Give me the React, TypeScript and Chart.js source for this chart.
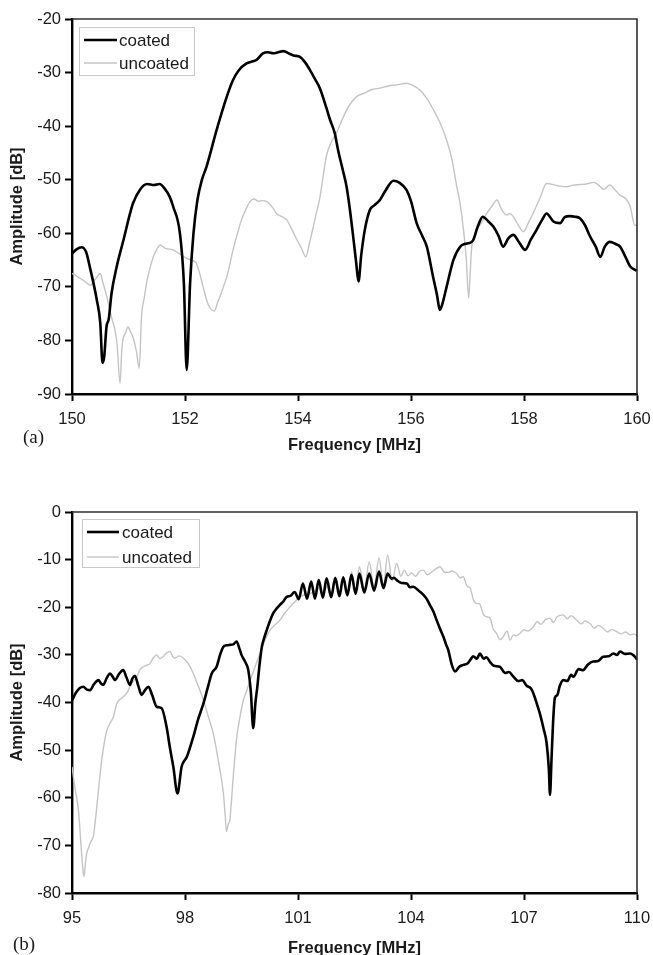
import React, { useEffect, useRef } from "react";
import { Chart, registerables } from "chart.js";

Chart.register(...registerables);

// ---------- Panel (a) data ----------
const coatedA_f = [150.0, 150.08, 150.17, 150.25, 150.32, 150.38, 150.44, 150.5, 150.54, 150.57, 150.61, 150.65, 150.7, 150.79, 150.91, 151.03, 151.08, 151.2, 151.33, 151.45, 151.55, 151.65, 151.73, 151.79, 151.91, 151.98, 152.03, 152.09, 152.15, 152.22, 152.3, 152.38, 152.56, 152.74, 152.85, 152.95, 153.09, 153.2, 153.27, 153.38, 153.47, 153.56, 153.65, 153.74, 153.85, 153.92, 154.04, 154.12, 154.21, 154.3, 154.39, 154.5, 154.57, 154.65, 154.71, 154.8, 154.86, 154.92, 154.97, 155.03, 155.07, 155.12, 155.18, 155.27, 155.35, 155.45, 155.55, 155.69, 155.8, 155.92, 156.0, 156.1, 156.2, 156.28, 156.39, 156.46, 156.51, 156.56, 156.63, 156.75, 156.87, 156.95, 157.04, 157.1, 157.18, 157.27, 157.37, 157.46, 157.55, 157.63, 157.72, 157.81, 157.92, 158.02, 158.12, 158.22, 158.32, 158.4, 158.52, 158.64, 158.72, 158.81, 158.9, 158.99, 159.08, 159.17, 159.27, 159.35, 159.43, 159.52, 159.62, 159.7, 159.8, 159.88, 160.0];
const coatedA_db = [-63.8, -63.0, -62.6, -63.5, -66.5, -69.3, -72.5, -76.7, -84.2, -83.0, -77.5, -76.0, -71.2, -66.3, -61.3, -56.2, -54.4, -51.9, -50.8, -51.0, -50.8, -51.8, -53.2, -55.0, -60.0, -69.3, -85.5, -69.3, -60.0, -53.8, -50.0, -47.6, -40.7, -34.5, -31.4, -29.6, -28.3, -27.9, -27.6, -26.4, -26.2, -26.4, -26.2, -26.0, -26.5, -26.8, -27.1, -28.0, -29.5, -31.2, -33.0, -36.5, -38.9, -41.3, -44.5, -48.5, -51.3, -55.7, -60.0, -65.5, -69.0, -64.0, -59.5, -55.7, -54.8, -53.8, -52.0, -50.2, -50.6, -51.9, -54.0, -58.1, -60.5, -62.5, -68.1, -71.5, -74.3, -73.0, -70.0, -65.0, -62.5, -62.0, -61.8, -61.3, -58.8, -56.9, -57.8, -58.8, -60.5, -62.5, -61.0, -60.3, -61.8, -63.1, -61.2, -59.4, -57.5, -56.3, -57.8, -58.1, -57.0, -56.8, -56.9, -57.2, -58.5, -60.6, -62.5, -64.4, -62.5, -61.6, -62.0, -62.5, -64.5, -66.2, -67.0];

const uncoatedA_f = [150.0, 150.07, 150.14, 150.23, 150.32, 150.42, 150.5, 150.55, 150.62, 150.67, 150.72, 150.76, 150.8, 150.85, 150.88, 150.9, 150.95, 150.99, 151.04, 151.08, 151.14, 151.19, 151.23, 151.28, 151.32, 151.38, 151.44, 151.5, 151.56, 151.65, 151.79, 151.9, 152.03, 152.12, 152.2, 152.26, 152.32, 152.4, 152.47, 152.52, 152.58, 152.62, 152.68, 152.74, 152.8, 152.85, 152.93, 153.0, 153.08, 153.15, 153.22, 153.3, 153.38, 153.45, 153.55, 153.62, 153.7, 153.8, 153.9, 153.98, 154.06, 154.14, 154.2, 154.27, 154.33, 154.39, 154.45, 154.5, 154.58, 154.68, 154.78, 154.86, 154.95, 155.05, 155.16, 155.3, 155.45, 155.6, 155.75, 155.92, 156.05, 156.16, 156.28, 156.4, 156.52, 156.63, 156.72, 156.81, 156.87, 156.93, 156.98, 157.02, 157.05, 157.07, 157.12, 157.16, 157.25, 157.34, 157.43, 157.52, 157.6, 157.7, 157.75, 157.81, 157.9, 157.99, 158.08, 158.16, 158.28, 158.4, 158.55, 158.65, 158.75, 158.87, 158.99, 159.1, 159.23, 159.32, 159.41, 159.52, 159.62, 159.7, 159.8, 159.88, 159.96, 160.0];
const uncoatedA_db = [-67.5, -67.9, -68.4, -69.0, -69.7, -68.5, -67.5, -69.3, -72.0, -74.3, -76.5, -78.0, -81.0, -88.0, -82.0, -80.0, -78.5, -77.5, -78.5, -79.4, -82.0, -85.2, -75.6, -72.0, -69.3, -66.5, -64.4, -63.0, -62.2, -62.8, -63.1, -63.8, -64.7, -65.0, -65.6, -67.5, -70.0, -73.0, -74.3, -74.5, -72.8, -71.8, -70.0, -68.1, -65.5, -63.1, -60.0, -57.5, -55.5, -54.1, -53.6, -54.0, -53.9, -54.1, -55.2, -56.3, -56.8, -57.5, -59.5, -61.2, -62.8, -64.4, -62.0, -58.8, -56.0, -53.2, -49.0, -45.7, -43.2, -41.3, -38.8, -37.0, -35.5, -34.4, -33.9, -33.2, -32.9, -32.5, -32.3, -32.0, -32.5, -33.3, -34.8, -37.0, -39.5, -42.6, -46.0, -51.3, -54.5, -59.5, -65.0, -72.1, -67.0, -63.1, -60.5, -59.4, -58.0, -56.3, -55.0, -53.8, -55.5, -56.6, -56.3, -56.9, -58.5, -59.7, -58.0, -56.3, -53.5, -50.7, -51.0, -51.2, -51.3, -51.0, -50.9, -50.8, -50.5, -51.0, -51.8, -51.0, -52.0, -52.9, -53.5, -55.0, -58.5, -58.5];

const xTicksA = [150, 152, 154, 156, 158, 160];
const yTicksA = [-90, -80, -70, -60, -50, -40, -30, -20];

// ---------- Panel (b) data ----------
const coatedB_f = [95.0, 95.1, 95.2, 95.3, 95.4, 95.48, 95.58, 95.7, 95.77, 95.83, 95.92, 96.01, 96.08, 96.14, 96.25, 96.36, 96.45, 96.54, 96.6, 96.67, 96.76, 96.85, 96.93, 97.03, 97.13, 97.25, 97.38, 97.51, 97.6, 97.69, 97.8, 97.91, 98.05, 98.22, 98.35, 98.49, 98.6, 98.71, 98.84, 98.93, 99.02, 99.1, 99.19, 99.28, 99.37, 99.45, 99.5, 99.6, 99.68, 99.75, 99.81, 99.87, 99.92, 99.98, 100.04, 100.1, 100.17, 100.26, 100.34, 100.43, 100.52, 100.61, 100.7, 100.8, 100.91, 101.02, 101.13, 101.24, 101.35, 101.45, 101.55, 101.66, 101.76, 101.88, 101.99, 102.1, 102.2, 102.31, 102.42, 102.53, 102.63, 102.76, 102.89, 103.02, 103.15, 103.27, 103.38, 103.48, 103.55, 103.62, 103.75, 103.89, 103.97, 104.06, 104.2, 104.33, 104.42, 104.5, 104.6, 104.68, 104.77, 104.86, 104.93, 104.99, 105.08, 105.17, 105.28, 105.39, 105.5, 105.58, 105.65, 105.75, 105.83, 105.93, 106.0, 106.1, 106.2, 106.36, 106.5, 106.6, 106.72, 106.85, 106.95, 107.07, 107.18, 107.25, 107.35, 107.42, 107.52, 107.6, 107.66, 107.69, 107.73, 107.77, 107.82, 107.88, 107.95, 108.04, 108.15, 108.25, 108.31, 108.45, 108.57, 108.7, 108.84, 108.97, 109.1, 109.25, 109.37, 109.47, 109.55, 109.68, 109.81, 109.95, 110.0];
const coatedB_db = [-39.6, -38.0, -37.0, -36.7, -37.3, -37.4, -36.2, -35.3, -36.0, -36.3, -34.9, -33.9, -34.6, -35.3, -34.0, -33.2, -34.8, -36.3, -35.0, -34.4, -36.5, -38.4, -37.5, -36.7, -38.5, -40.9, -41.2, -45.1, -49.5, -53.5, -59.1, -53.5, -51.4, -47.2, -43.5, -40.2, -37.0, -33.9, -32.5, -30.0, -28.3, -28.0, -27.9, -27.8, -27.2, -28.8, -30.0, -31.5, -33.2, -38.0, -45.4, -40.0, -36.7, -32.0, -28.3, -26.5, -24.8, -22.8, -21.3, -20.3, -19.5, -18.8, -17.8, -17.6, -16.8, -18.3, -15.0, -18.2, -14.6, -18.2, -14.3, -18.0, -13.9, -17.9, -13.8, -17.7, -13.7, -17.5, -13.2, -17.2, -12.9, -16.9, -12.9, -16.5, -12.5, -16.0, -12.9, -14.0, -13.8, -14.3, -14.9, -15.0, -15.8, -15.7, -16.5, -17.4, -18.3, -19.5, -21.0, -22.7, -24.5, -26.2, -27.8, -29.0, -32.0, -33.5, -32.5, -32.1, -31.8, -31.0, -30.3, -30.8, -29.7, -30.8, -30.5, -31.5, -32.3, -32.5, -33.8, -33.6, -34.6, -35.5, -35.3, -36.5, -37.0, -38.1, -40.5, -42.3, -45.5, -48.5, -54.0, -59.4, -52.0, -44.5, -39.0, -38.5, -36.5, -35.3, -35.5, -34.2, -34.6, -33.0, -33.2, -32.0, -31.4, -31.3, -30.4, -30.3, -29.7, -30.0, -29.3, -29.8, -29.7, -30.4, -31.0];

const uncoatedB_f = [95.0, 95.08, 95.17, 95.24, 95.3, 95.32, 95.36, 95.39, 95.44, 95.48, 95.53, 95.57, 95.61, 95.65, 95.72, 95.79, 95.85, 95.92, 96.0, 96.1, 96.19, 96.3, 96.45, 96.58, 96.72, 96.8, 96.89, 96.98, 97.07, 97.16, 97.25, 97.33, 97.42, 97.51, 97.6, 97.67, 97.73, 97.85, 97.96, 98.1, 98.22, 98.35, 98.49, 98.62, 98.75, 98.88, 99.02, 99.07, 99.1, 99.15, 99.19, 99.24, 99.28, 99.33, 99.37, 99.46, 99.55, 99.64, 99.73, 99.86, 99.99, 100.12, 100.26, 100.39, 100.52, 100.65, 100.79, 100.92, 101.05, 101.18, 101.32, 101.45, 101.55, 101.66, 101.76, 101.88, 101.99, 102.1, 102.2, 102.31, 102.42, 102.53, 102.63, 102.76, 102.89, 103.02, 103.15, 103.27, 103.38, 103.5, 103.62, 103.73, 103.82, 103.92, 104.02, 104.12, 104.22, 104.33, 104.43, 104.55, 104.65, 104.77, 104.88, 104.98, 105.08, 105.21, 105.3, 105.39, 105.48, 105.57, 105.66, 105.74, 105.82, 105.92, 106.01, 106.1, 106.18, 106.27, 106.36, 106.45, 106.55, 106.63, 106.72, 106.8, 106.89, 107.0, 107.1, 107.25, 107.35, 107.45, 107.57, 107.69, 107.78, 107.88, 108.04, 108.15, 108.25, 108.4, 108.52, 108.62, 108.75, 108.87, 108.97, 109.1, 109.22, 109.33, 109.46, 109.58, 109.7, 109.82, 109.92, 110.0];
const uncoatedB_db = [-53.5, -58.0, -62.6, -70.0, -75.9, -76.5, -73.5, -71.7, -70.5, -69.6, -68.8, -68.0, -65.5, -62.6, -57.0, -52.1, -48.8, -46.0, -44.5, -43.0, -40.2, -39.2, -38.1, -36.0, -34.6, -33.2, -32.5, -32.2, -31.8, -30.6, -30.0, -30.8, -30.4, -29.6, -29.3, -30.3, -30.7, -30.2, -30.7, -32.0, -33.9, -36.5, -39.5, -43.0, -46.5, -52.0, -59.1, -64.0, -67.1, -65.5, -64.7, -60.0, -55.6, -51.0, -47.5, -43.0, -39.5, -37.5, -35.3, -32.5, -29.7, -27.0, -24.8, -23.7, -22.7, -21.2, -19.9, -18.8, -17.8, -17.4, -17.1, -16.6, -16.0, -17.0, -15.6, -16.9, -14.8, -16.8, -13.6, -16.6, -12.6, -16.4, -11.5, -16.2, -10.5, -15.9, -9.6, -15.5, -9.0, -14.5, -10.8, -13.5, -12.2, -13.4, -12.8, -13.5, -12.5, -12.2, -13.2, -12.6, -12.0, -11.5, -12.6, -12.7, -12.4, -12.9, -13.8, -13.6, -15.5, -16.0, -18.5, -19.2, -19.3, -21.5, -22.0, -22.3, -24.5, -25.5, -26.8, -26.2, -25.0, -26.9, -25.8, -26.0, -25.5, -24.7, -25.0, -24.1, -23.0, -23.6, -22.6, -22.3, -23.2, -22.0, -21.6, -22.4, -21.8, -22.7, -23.5, -22.9, -23.4, -24.4, -23.8, -24.4, -25.2, -24.7, -25.1, -25.6, -25.2, -25.8, -25.6, -26.0];

const xTicksB = [95, 98, 101, 104, 107, 110];
const yTicksB = [-80, -70, -60, -50, -40, -30, -20, -10, 0];

const seriesNames = ["coated", "uncoated"];
const xTitle = "Frequency [MHz]";
const yTitle = "Amplitude [dB]";

// ---------- styling ----------
const SANS = "'Liberation Sans', Arial, Helvetica, sans-serif";
const COATED_COLOR = "#000000";
const UNCOATED_COLOR = "#c4c4c4";
const TEXT_COLOR = "#1a1a1a";

function toPoints(f: number[], d: number[]) {
  return f.map((x, i) => ({ x, y: d[i] }));
}

const framePlugin = {
  id: "frameLegend",
  afterDraw(chart: any, _args: any, opts: any) {
    const { ctx, chartArea: a } = chart;
    ctx.save();
    ctx.strokeStyle = "#303030";
    ctx.lineWidth = 1.6;
    ctx.beginPath();
    ctx.moveTo(a.left, a.top);
    ctx.lineTo(a.right, a.top);
    ctx.lineTo(a.right, a.bottom);
    ctx.stroke();

    const lg = opts.legend;
    if (lg) {
      const bx = a.left + lg.dx;
      const by = a.top + lg.dy;
      ctx.strokeStyle = "#c8c8c8";
      ctx.lineWidth = 1;
      ctx.strokeRect(bx + 0.5, by + 0.5, lg.w, lg.h);
      ctx.font = `${lg.fontSize}px ${SANS}`;
      ctx.fillStyle = TEXT_COLOR;
      ctx.textBaseline = "middle";
      ctx.textAlign = "left";
      const items = [
        { name: seriesNames[0], color: COATED_COLOR, width: 2.6, y: by + lg.y1 },
        { name: seriesNames[1], color: UNCOATED_COLOR, width: 1.4, y: by + lg.y2 },
      ];
      for (const it of items) {
        ctx.strokeStyle = it.color;
        ctx.lineWidth = it.width;
        ctx.beginPath();
        ctx.moveTo(bx + lg.lx0, it.y);
        ctx.lineTo(bx + lg.lx1, it.y);
        ctx.stroke();
        ctx.fillText(it.name, bx + lg.tx, it.y + 1);
      }
    }
    ctx.restore();
  },
};

interface PanelProps {
  coatedF: number[];
  coatedDb: number[];
  uncoatedF: number[];
  uncoatedDb: number[];
  xTicks: number[];
  yTicks: number[];
  height: number;
  padTop: number;
  xAxisHeight: number;
  xTitlePadBottom: number;
  legend: any;
}

function Panel(p: PanelProps) {
  const ref = useRef<HTMLCanvasElement | null>(null);
  useEffect(() => {
    if (!ref.current) return;
    const tickFont = { family: SANS, size: 16.5 };
    const titleFont = { family: SANS, size: 16.5, weight: "bold" as const };
    const chart = new Chart(ref.current, {
      type: "line",
      data: {
        datasets: [
          {
            label: seriesNames[0],
            data: toPoints(p.coatedF, p.coatedDb),
            borderColor: COATED_COLOR,
            borderWidth: 2.6,
            pointRadius: 0,
            cubicInterpolationMode: "monotone",
            fill: false,
          },
          {
            label: seriesNames[1],
            data: toPoints(p.uncoatedF, p.uncoatedDb),
            borderColor: UNCOATED_COLOR,
            borderWidth: 1.4,
            pointRadius: 0,
            cubicInterpolationMode: "monotone",
            fill: false,
          },
        ],
      },
      options: {
        responsive: false,
        animation: false,
        events: [],
        layout: { padding: { top: p.padTop, right: 16, left: 0, bottom: 0 } },
        plugins: {
          legend: { display: false },
          tooltip: { enabled: false },
          frameLegend: { legend: p.legend },
        } as any,
        scales: {
          x: {
            type: "linear",
            min: p.xTicks[0],
            max: p.xTicks[p.xTicks.length - 1],
            afterBuildTicks: (s: any) => {
              s.ticks = p.xTicks.map((v) => ({ value: v }));
            },
            afterFit: (s: any) => {
              s.height = p.xAxisHeight;
              s.paddingLeft = 14;
              s.paddingRight = 14;
            },
            ticks: { font: tickFont, color: TEXT_COLOR, padding: 9, maxRotation: 0, autoSkip: false },
            grid: {
              display: true,
              drawOnChartArea: false,
              drawTicks: true,
              tickLength: 7,
              tickWidth: 2,
              tickColor: "#000",
            },
            border: { display: true, color: "#000", width: 2.4 },
            title: {
              display: true,
              text: xTitle,
              font: titleFont,
              color: TEXT_COLOR,
              padding: { top: 0, bottom: p.xTitlePadBottom },
            },
          },
          y: {
            type: "linear",
            min: p.yTicks[0],
            max: p.yTicks[p.yTicks.length - 1],
            afterBuildTicks: (s: any) => {
              s.ticks = p.yTicks.map((v) => ({ value: v }));
            },
            afterFit: (s: any) => {
              s.width = 72;
            },
            ticks: { font: tickFont, color: TEXT_COLOR, padding: 4, autoSkip: false },
            grid: {
              display: true,
              drawOnChartArea: false,
              drawTicks: true,
              tickLength: 7,
              tickWidth: 2,
              tickColor: "#000",
            },
            border: { display: true, color: "#000", width: 2.4 },
            title: {
              display: true,
              text: yTitle,
              font: titleFont,
              color: TEXT_COLOR,
              padding: { top: 8, bottom: 0 },
            },
          },
        },
      },
      plugins: [framePlugin],
    } as any);
    return () => chart.destroy();
  }, []);
  return <canvas ref={ref} width={653} height={p.height} style={{ display: "block", width: 653, height: p.height }} />;
}

const panelLabelStyle: React.CSSProperties = {
  position: "absolute",
  fontFamily: "'Liberation Serif', 'Times New Roman', serif",
  fontSize: 19,
  lineHeight: "19px",
  color: TEXT_COLOR,
  whiteSpace: "nowrap",
};

export default function App() {
  return (
    <div
      style={{
        position: "absolute",
        left: 0,
        top: 0,
        width: 653,
        height: 955,
        overflow: "hidden",
        background: "#fff",
      }}
    >
      <div style={{ position: "absolute", left: 0, top: 0 }}>
        <Panel
          coatedF={coatedA_f}
          coatedDb={coatedA_db}
          uncoatedF={uncoatedA_f}
          uncoatedDb={uncoatedA_db}
          xTicks={xTicksA}
          yTicks={yTicksA}
          height={470}
          padTop={19}
          xAxisHeight={76}
          xTitlePadBottom={15}
          legend={{ dx: 7, dy: 8, w: 115, h: 48, y1: 13, y2: 36, lx0: 5, lx1: 38, tx: 40, fontSize: 17 }}
        />
      </div>
      <div style={{ position: "absolute", left: 0, top: 470 }}>
        <Panel
          coatedF={coatedB_f}
          coatedDb={coatedB_db}
          uncoatedF={uncoatedB_f}
          uncoatedDb={uncoatedB_db}
          xTicks={xTicksB}
          yTicks={yTicksB}
          height={490}
          padTop={42}
          xAxisHeight={67}
          xTitlePadBottom={2}
          legend={{ dx: 10, dy: 7, w: 117, h: 48, y1: 13, y2: 38, lx0: 5, lx1: 37, tx: 40, fontSize: 17 }}
        />
      </div>
      <div style={{ ...panelLabelStyle, left: 23, top: 427 }}>(a)</div>
      <div style={{ ...panelLabelStyle, left: 13, top: 934 }}>(b)</div>
    </div>
  );
}
